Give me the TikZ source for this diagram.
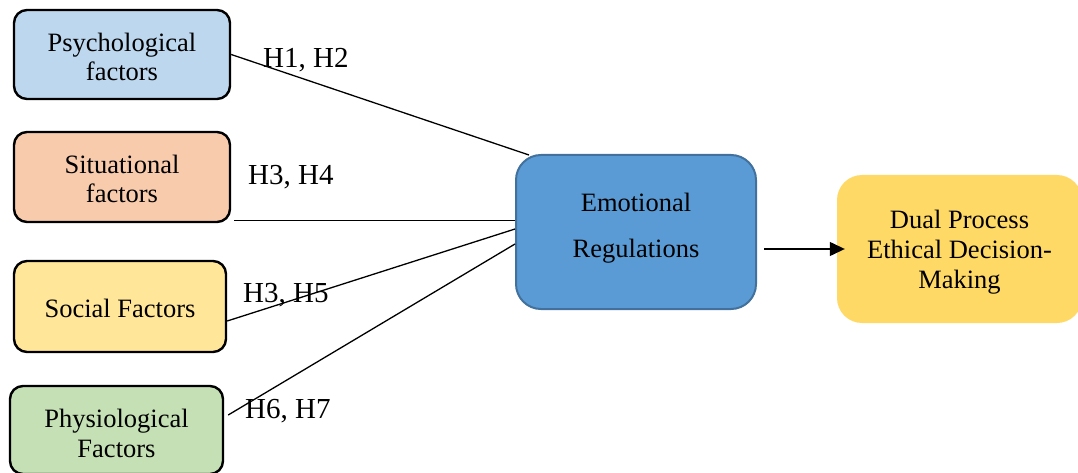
\documentclass[tikz,border=0pt]{standalone}
\usepackage{fontspec}
\setmainfont{Liberation Serif}
\usetikzlibrary{arrows.meta,calc}
\definecolor{psyc}{HTML}{BDD7EE}
\definecolor{sitc}{HTML}{F8CBAD}
\definecolor{socc}{HTML}{FFE699}
\definecolor{phyc}{HTML}{C5E0B4}
\definecolor{emoc}{HTML}{5B9BD5}
\definecolor{emob}{HTML}{41719C}
\definecolor{dualc}{HTML}{FFD966}
\begin{document}
\begin{tikzpicture}[x=1pt,y=-1pt,
  factor/.style={draw=black, line width=2.4pt, rounded corners=13pt, align=center,
    font=\fontsize{26.5}{29.5}\selectfont, inner sep=0pt},
  bigbox/.style={rounded corners=25pt, align=center, inner sep=0pt},
  conn/.style={line width=1.3pt, draw=black},
  hlabel/.style={anchor=base west, inner sep=0pt, font=\fontsize{29}{32}\selectfont}]
\useasboundingbox (0,0) rectangle (1078,473);
\fill[white] (0,0) rectangle (1078,473);

\node[factor, fill=psyc, minimum width=216pt, minimum height=89pt, text height=53pt, text depth=0pt] (psy) at (122,54.5) {Psychological\\factors};
\node[factor, fill=sitc, minimum width=216pt, minimum height=90pt, text height=52pt, text depth=0pt] (sit) at (122,177) {Situational\\factors};
\node[factor, fill=socc, minimum width=212pt, minimum height=91pt, text height=21pt, text depth=0pt] (soc) at (120,306.5) {Social Factors};
\node[factor, fill=phyc, minimum width=213pt, minimum height=88pt, text height=54pt, text depth=0pt] (phy) at (116.5,430) {Physiological\\Factors};

\node[bigbox, fill=emoc, draw=emob, line width=2pt, minimum width=240pt, minimum height=154pt,
  font=\fontsize{26.5}{46}\selectfont, text height=50pt, text depth=0pt] (emo) at (636,232) {Emotional\\Regulations};
\node[bigbox, fill=dualc, minimum width=245pt, minimum height=148pt,
  font=\fontsize{26.5}{30}\selectfont, text height=78pt, text depth=0pt] (dual) at (959.5,249) {Dual Process\\Ethical Decision-\\Making};

% connectors
\draw[conn] (psy.east) -- ([xshift=14pt,yshift=-1pt]emo.north west);
\coordinate (s0) at ([xshift=3pt,yshift=3pt]sit.south east);
\draw[conn] (s0) -- (emo.west |- s0);
\draw[conn] ([yshift=-14.5pt]soc.east) -- ([yshift=3pt]emo.west);
\draw[conn] ([xshift=4pt,yshift=15pt]phy.east) -- ([yshift=-12pt]emo.west);

\coordinate (a0) at ([xshift=7pt,yshift=-17pt]emo.east);
\coordinate (a1) at ([xshift=8pt]dual.west);
\draw[conn, -{Triangle[length=15pt,width=14pt]}] (a0) -- (a1 |- a0);

% labels
\node[hlabel] (l1) at (263,68) {H1, H2};
\node[hlabel] (l2) at (248,185) {H3, H4};
\node[hlabel] (l3) at (243,302) {H3, H5};
\node[hlabel] (l4) at (245,418) {H6, H7};
\end{tikzpicture}
\end{document}
